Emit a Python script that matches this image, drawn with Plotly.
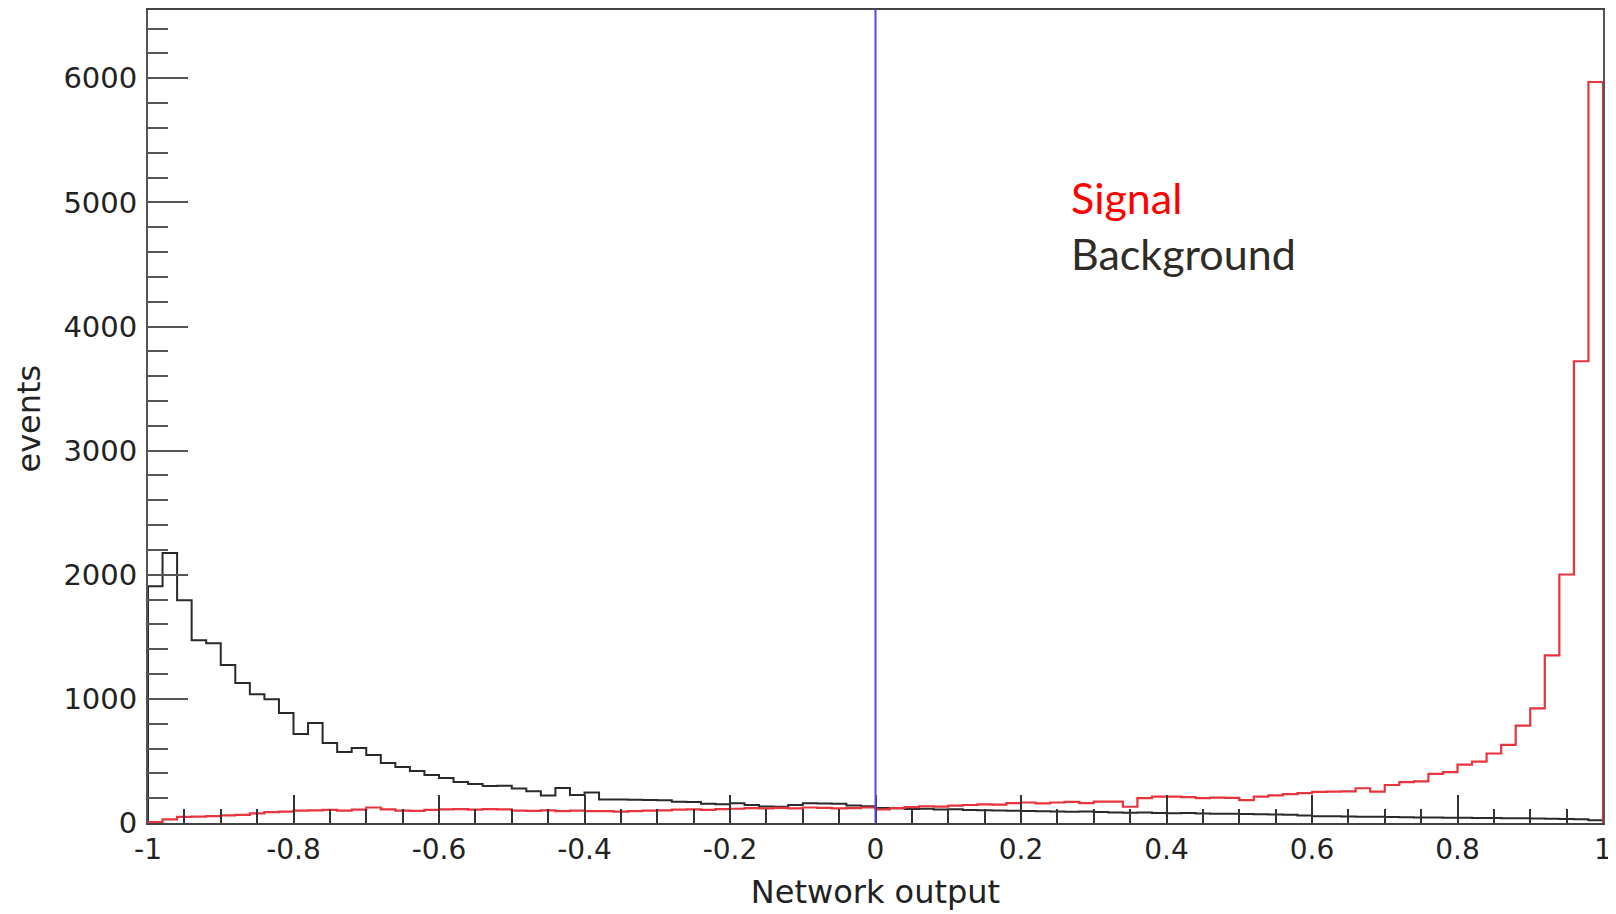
import numpy as np
import plotly.graph_objects as go

# ---------------- data ----------------
x_min, x_max = -1.0, 1.0
n_bins = 100

background_counts = [
    1908, 2176, 1795, 1473, 1449, 1272, 1127, 1038, 998, 886,
    717, 805, 644, 572, 604, 548, 483, 451, 419, 386,
    362, 330, 314, 298, 300, 278, 255, 222, 282, 225,
    246, 190, 190, 188, 185, 183, 172, 170, 155, 152,
    160, 145, 132, 130, 145, 160, 158, 155, 140, 135,
    120, 118, 112, 115, 108, 110, 105, 102, 100, 98,
    97, 95, 92, 90, 92, 88, 85, 82, 84, 80,
    78, 80, 76, 74, 75, 72, 70, 68, 66, 60,
    55, 54, 52, 50, 50, 48, 47, 45, 45, 42,
    42, 40, 40, 38, 38, 36, 34, 32, 30, 22,
]

signal_counts = [
    8, 30, 50, 52, 55, 62, 65, 78, 88, 92,
    100, 102, 105, 100, 108, 125, 110, 100, 98, 105,
    110, 112, 108, 112, 110, 100, 98, 102, 95, 100,
    96, 95, 92, 96, 100, 102, 108, 110, 106, 112,
    115, 120, 118, 122, 118, 125, 122, 118, 120, 125,
    110, 120, 128, 135, 132, 140, 145, 150, 148, 160,
    165, 158, 165, 170, 160, 172, 172, 131, 200, 212,
    212, 208, 200, 205, 202, 185, 212, 222, 232, 240,
    250, 252, 255, 280, 252, 306, 330, 336, 395, 410,
    470, 495, 560, 630, 785, 924, 1350, 2002, 3720, 5970,
]

cut_value = 0.0

x_tick_vals = [-1, -0.8, -0.6, -0.4, -0.2, 0, 0.2, 0.4, 0.6, 0.8, 1]
x_tick_text = ["-1", "-0.8", "-0.6", "-0.4", "-0.2", "0", "0.2", "0.4", "0.6", "0.8", "1"]
y_tick_vals = [0, 1000, 2000, 3000, 4000, 5000, 6000]
y_tick_text = ["0", "1000", "2000", "3000", "4000", "5000", "6000"]
y_max = 6550

legend_labels = ["Signal", "Background"]
x_title = "Network output"
y_title = "events"

# ---------------- figure ----------------
edges = np.linspace(x_min, x_max, n_bins + 1)


def step_xy(counts):
    xs = [edges[0]] + list(edges) + [edges[-1]]
    ys = [0] + list(counts) + [counts[-1], 0]
    return xs, ys


fig = go.Figure()

bx, by = step_xy(background_counts)
fig.add_trace(go.Scatter(x=bx, y=by, mode="lines", line_shape="hv",
                         line=dict(color="#2a2a2a", width=2),
                         name=legend_labels[1], showlegend=False))
sx, sy = step_xy(signal_counts)
fig.add_trace(go.Scatter(x=sx, y=sy, mode="lines", line_shape="hv",
                         line=dict(color="#e8343f", width=2.2),
                         name=legend_labels[0], showlegend=False))

fig.add_shape(type="line", xref="x", yref="paper", x0=cut_value, x1=cut_value,
              y0=0, y1=1, line=dict(color="#5a46dc", width=2), layer="above")

axis_family = "DejaVu Sans, Liberation Sans, sans-serif"
tick_font = dict(family=axis_family, size=28, color="#222")

fig.update_xaxes(
    range=[x_min, x_max],
    tickmode="array", tickvals=x_tick_vals, ticktext=x_tick_text,
    ticks="inside", ticklen=28, tickwidth=2, tickcolor="#333",
    minor=dict(dtick=0.05, tick0=-1, ticks="inside", ticklen=14,
               tickwidth=2, tickcolor="#333"),
    showline=True, linecolor="#444", linewidth=2, mirror=True,
    showgrid=False, zeroline=False,
    tickfont=tick_font, ticklabelstandoff=0,
    title=dict(text=x_title, font=dict(family=axis_family, size=32, color="#222"),
               standoff=16),
    automargin=False,
)
fig.update_yaxes(
    range=[0, y_max],
    tickmode="array", tickvals=y_tick_vals, ticktext=y_tick_text,
    ticks="inside", ticklen=40, tickwidth=2, tickcolor="#555",
    minor=dict(dtick=200, tick0=0, ticks="inside", ticklen=20,
               tickwidth=2, tickcolor="#555"),
    showline=True, linecolor="#555", linewidth=2, mirror=True,
    showgrid=False, zeroline=False,
    tickfont=dict(family=axis_family, size=29, color="#222"), ticklabelstandoff=3,
    automargin=False,
)

# y-axis title placed as a rotated annotation (sits further left, as in ROOT)
fig.add_annotation(xref="paper", yref="paper", x=-0.0815, y=0.498,
                   xanchor="center", yanchor="middle", showarrow=False,
                   textangle=-90, text=y_title,
                   font=dict(family=axis_family, size=32, color="#222"))

legend_font = "Lato, Open Sans, sans-serif"
fig.add_annotation(xref="paper", yref="paper", x=0.633, y=0.769,
                   xanchor="left", yanchor="middle", showarrow=False,
                   text=legend_labels[0],
                   font=dict(family=legend_font, size=43, color="#ff0000"))
fig.add_annotation(xref="paper", yref="paper", x=0.633, y=0.701,
                   xanchor="left", yanchor="middle", showarrow=False,
                   text=legend_labels[1],
                   font=dict(family=legend_font, size=43, color="#2f2b26"))

fig.update_layout(
    width=1616, height=914,
    margin=dict(l=140, r=21, t=2, b=99),
    paper_bgcolor="white", plot_bgcolor="white",
    showlegend=False,
)

fig.write_html("out.html")
